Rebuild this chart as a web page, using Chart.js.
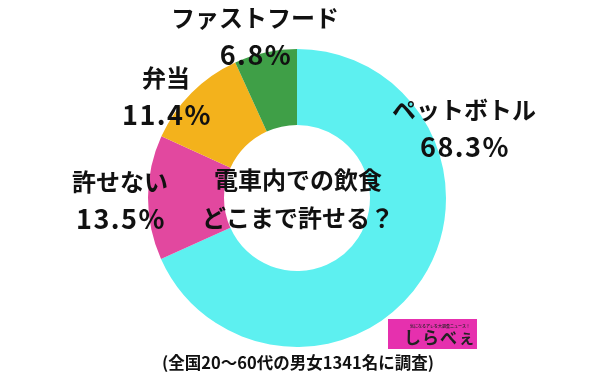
<!DOCTYPE html>
<html lang="ja">
<head>
    <meta charset="UTF-8">
    <title>電車内での飲食どこまで許せる？</title>
    <style>
        html, body { margin: 0; padding: 0; background: #fff; }
        .chart-container { width: 600px; height: 374px; }
    </style>
    <script src="https://cdn.jsdelivr.net/npm/chart.js"></script>
</head>
<body>
    <div class="chart-container">
        <canvas id="pieChart"></canvas>
    </div>

    <script>
        // data (clockwise from 12 o'clock)
        const categories = ['ペットボトル', '許せない', '弁当', 'ファストフード'];
        const percents = [68.3, 13.5, 11.4, 6.8];
        const colors = ['#5df0f0', '#e2489f', '#f3b21c', '#3f9f47'];
        const titleLines = ['電車内での飲食', 'どこまで許せる？'];
        const footnote = '(全国20〜60代の男女1341名に調査)';

        const jpFont = '"Noto Sans CJK JP", "Noto Sans", sans-serif';

        // draws the labels, the centre title, the footnote and the logo box
        const textPlugin = {
            id: 'textPlugin',
            afterDraw(chart, args, opts) {
                const ctx = chart.ctx;
                const meta = chart.getDatasetMeta(0);
                const cx = meta.data[0].x;
                const cy = meta.data[0].y;
                ctx.save();
                ctx.fillStyle = '#111';
                ctx.textAlign = 'center';
                ctx.textBaseline = 'middle';

                // category name + percentage, offset from the centre
                categories.forEach((name, i) => {
                    const off = opts.offsets[i];
                    ctx.font = '600 24px ' + jpFont;
                    ctx.letterSpacing = '0px';
                    ctx.fillText(name, cx + off[0], cy + off[1]);
                    ctx.font = '600 27px ' + jpFont;
                    ctx.letterSpacing = '1.5px';
                    ctx.fillText(percents[i].toFixed(1) + '%', cx + off[0] + 1, cy + off[1] + 37);
                });

                // centre title
                ctx.letterSpacing = '0px';
                ctx.font = '600 24px ' + jpFont;
                ctx.fillText(titleLines[0], cx + 1, cy - 18);
                ctx.fillText(titleLines[1], cx + 1, cy + 20);

                // footnote
                ctx.font = '600 16.5px ' + jpFont;
                ctx.fillText(footnote, 298, 363);

                // logo
                ctx.fillStyle = '#e630ae';
                ctx.fillRect(388, 319, 89, 30);
                ctx.fillStyle = '#222';
                ctx.font = '500 4px ' + jpFont;
                ctx.fillText('気になるアレを大調査ニュース！', 440, 326);
                ctx.font = 'bold 17px ' + jpFont;
                ctx.letterSpacing = '1px';
                ctx.fillText('しらべぇ', 440, 338);
                ctx.restore();
            }
        };

        new Chart(document.getElementById('pieChart'), {
            type: 'doughnut',
            data: {
                labels: categories,
                datasets: [{
                    data: percents,
                    backgroundColor: colors,
                    borderWidth: 0
                }]
            },
            options: {
                responsive: true,
                maintainAspectRatio: false,
                animation: false,
                cutout: '49%',
                layout: { padding: { top: 49, bottom: 27, left: 0, right: 6 } },
                plugins: {
                    legend: { display: false },
                    tooltip: { enabled: false },
                    textPlugin: {
                        offsets: [[167, -88], [-177, -16], [-131, -120], [-42, -180]]
                    }
                }
            },
            plugins: [textPlugin]
        });
    </script>
</body>
</html>
